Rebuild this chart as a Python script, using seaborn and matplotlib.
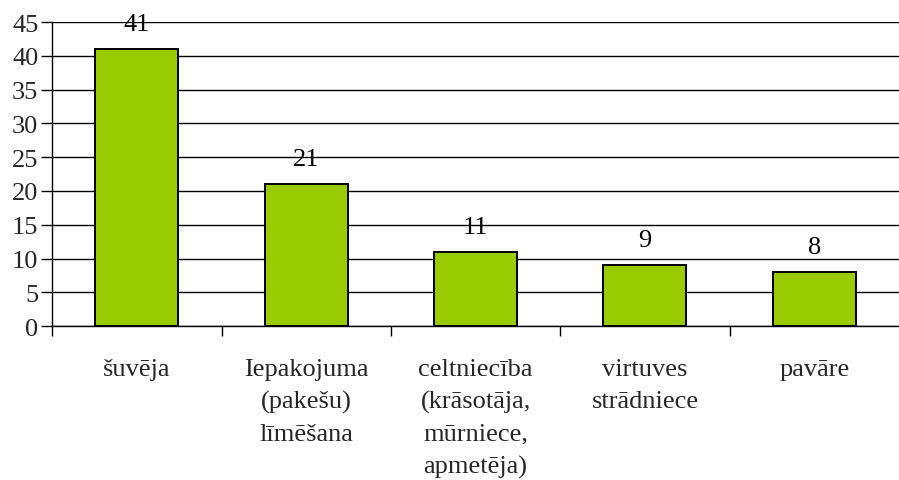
import matplotlib
matplotlib.use("Agg")
import matplotlib.pyplot as plt
import seaborn as sns
import pandas as pd

categories = [
    "šuvēja",
    "Iepakojuma\n(pakešu)\nlīmēšana",
    "celtniecība\n(krāsotāja,\nmūrniece,\napmetēja)",
    "virtuves\nstrādniece",
    "pavāre",
]
values = [41, 21, 11, 9, 8]
y_ticks = [0, 5, 10, 15, 20, 25, 30, 35, 40, 45]

df = pd.DataFrame({"cat": categories, "val": values})

sns.set_theme(style="white")
plt.rcParams["font.family"] = ["Liberation Serif", "DejaVu Serif"]

fig = plt.figure(figsize=(8.99, 4.81), dpi=100)
ax = fig.add_axes([0.058, 0.32, 0.942, 0.632])

sns.barplot(data=df, x="cat", y="val", color="#99CC00", width=0.49,
            edgecolor="black", linewidth=1.4, saturation=1, ax=ax, zorder=3)

ax.set_ylim(0, 45)
ax.set_xlim(-0.5, len(categories) - 0.5)
ax.set_yticks(y_ticks)
ax.yaxis.grid(True, color="black", linewidth=1)
ax.set_axisbelow(True)

# category ticks sit between the bars
ax.set_xticks([i - 0.5 for i in range(len(categories))], minor=False)
ax.set_xticklabels([])
ax.set_xticks(range(len(categories)), minor=True)
ax.set_xticklabels(categories, minor=True, fontsize=19, linespacing=1.56, va="top")
ax.tick_params(axis="x", which="minor", length=0, pad=23)
ax.tick_params(axis="x", which="major", length=7, width=1, color="black", direction="out", bottom=True)
ax.tick_params(axis="y", length=8, width=1, color="black", direction="out", left=True, labelsize=19, pad=2)

for s in ["top", "right"]:
    ax.spines[s].set_visible(False)
for s in ["left", "bottom"]:
    ax.spines[s].set_color("black")
    ax.spines[s].set_linewidth(1)

for i, v in enumerate(values):
    ax.annotate(str(v), (i, v), xytext=(0, 10), textcoords="offset points",
                ha="center", va="bottom", fontsize=19, color="black")

ax.set_xlabel("")
ax.set_ylabel("")

fig.savefig("out.png", dpi=100)
